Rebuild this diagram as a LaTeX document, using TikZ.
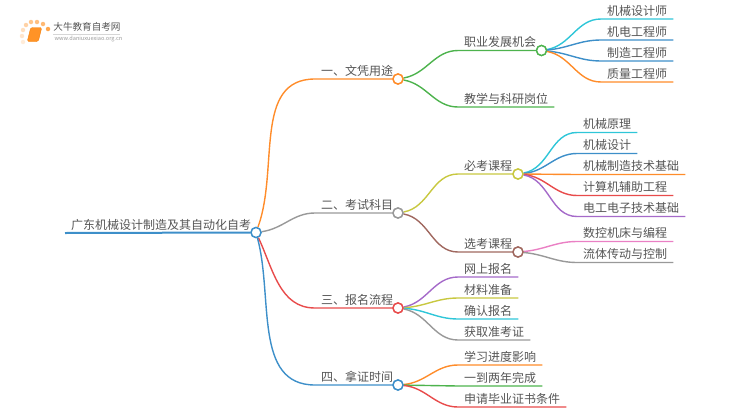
\documentclass[tikz,border=0pt]{standalone}
\usepackage{fontspec}
\setmainfont{Noto Sans CJK SC}
\usepackage{xcolor}
\usetikzlibrary{positioning,shapes.geometric}

\definecolor{lnblue}{HTML}{3D8FC9}
\definecolor{lnorange}{HTML}{FF8C2A}
\definecolor{lngray}{HTML}{999999}
\definecolor{lnred}{HTML}{E84B4B}
\definecolor{lngreen}{HTML}{4DB34D}
\definecolor{lnolive}{HTML}{C8C840}
\definecolor{lnbrown}{HTML}{A0685F}
\definecolor{lncyan}{HTML}{2FC6D8}
\definecolor{lnpurple}{HTML}{A56AC9}
\definecolor{lnpink}{HTML}{EA80C4}
\definecolor{txtgray}{HTML}{555555}

\tikzset{
    topic/.style={anchor=south west, inner xsep=6pt, inner ysep=1.5pt, text height=10.5pt, text depth=2pt,
        text=txtgray, font=\fontsize{12}{14}\selectfont},
    dot/.style={circle, draw=#1, fill=white, line width=1.4pt, minimum size=10pt, inner sep=0pt},
    link/.style={draw=#1, line width=1.4pt},
    spark/.style={circle, fill=#1, inner sep=0pt, minimum size=4.5pt}
}

\begin{document}
\begin{tikzpicture}[x=1pt, y=-1pt]
    \useasboundingbox (0,0) rectangle (750,410);

    % Logo
    \node[spark=orange!70] (s1) at (48,29) {};
    \node[spark=orange!55] (s2) at (43,24) {};
    \node[spark=orange!50] (s3) at (37,22) {};
    \node[spark=orange!45] (s4) at (31,22) {};
    \node[spark=orange!35] (s5) at (26,25) {};
    \node[spark=orange!25] (s6) at (23,30) {};
    \node[spark=orange!20] (s7) at (22,36) {};
    \node[spark=orange!15] (s8) at (23,42) {};
    \node[draw=orange!80!brown, fill=orange!85, rounded corners=1.5pt, minimum width=11pt, minimum height=14pt,
        inner sep=0pt, xslant=0.25] (book) at (34.5,34.5) {};
    \node[text=txtgray, font=\fontsize{9.6}{11}\selectfont, inner sep=0pt] (logotitle) at (87,26.5) {大牛教育自考网};
    \node[text=lngray, font=\fontsize{5.6}{7}\selectfont, inner sep=0pt] (logourl) at (88.5,39) {www.daniuxuexiao.org.cn};
    \draw[lngray!40, line width=0.5pt] (logotitle.south west) ++(0,3) -- ++(67,0);

    % Root
    \node[topic] (root) at (65,233) {广东机械设计制造及其自动化自考};
    \node[dot=lnblue] (rootdot) at (256,232.5) {};

    % First level
    \node[topic] (use) at (315,79) {一、文凭用途};
    \node[dot=lnorange] (usedot) at (398,79) {};
    \node[topic] (exam) at (315,213) {二、考试科目};
    \node[dot=lngray] (examdot) at (398,213) {};
    \node[topic] (apply) at (315,308) {三、报名流程};
    \node[dot=lnred] (applydot) at (398,308) {};
    \node[topic] (time) at (315,385) {四、拿证时间};
    \node[dot=lnblue] (timedot) at (398,385) {};

    % Usage branch
    \node[topic] (career) at (458,50.5) {职业发展机会};
    \node[dot=lngreen] (careerdot) at (541.5,50.5) {};
    \node[topic] (teach) at (458,107) {教学与科研岗位};
    \node[topic] (mech) at (601,19) {机械设计师};
    \node[topic] (elec) at (601,40) {机电工程师};
    \node[topic] (made) at (601,61) {制造工程师};
    \node[topic] (qual) at (601,82) {质量工程师};

    % Exam branch
    \node[topic] (must) at (458,174) {必考课程};
    \node[dot=lnolive] (mustdot) at (518,174) {};
    \node[topic] (opt) at (458,252) {选考课程};
    \node[dot=lnbrown] (optdot) at (518,252) {};
    \node[topic] (prin) at (577,132.5) {机械原理};
    \node[topic] (desi) at (577,153.5) {机械设计};
    \node[topic] (tech) at (577,174.5) {机械制造技术基础};
    \node[topic] (comp) at (577,195.5) {计算机辅助工程};
    \node[topic] (circ) at (577,216.5) {电工电子技术基础};
    \node[topic] (cnc) at (577,241.5) {数控机床与编程};
    \node[topic] (flui) at (577,262.5) {流体传动与控制};

    % Apply branch
    \node[topic] (net) at (458,277) {网上报名};
    \node[topic] (mate) at (458,298) {材料准备};
    \node[topic] (conf) at (458,319) {确认报名};
    \node[topic] (tick) at (458,340) {获取准考证};

    % Time branch
    \node[topic] (prog) at (458,365) {学习进度影响};
    \node[topic] (year) at (458,386) {一到两年完成};
    \node[topic] (cond) at (458,407) {申请毕业证书条件};

    % Connectors
    \draw[link=lnblue, line width=2pt] (root.south west) -- (rootdot);
    \draw[link=lnorange] (rootdot) to[out=70,in=180] (use.south west) -- (usedot);
    \draw[link=lngray] (rootdot) to[out=8,in=180] (exam.south west) -- (examdot);
    \draw[link=lnred] (rootdot) to[out=-65,in=180] (apply.south west) -- (applydot);
    \draw[link=lnblue] (rootdot) to[out=-75,in=180] (time.south west) -- (timedot);

    \draw[link=lngreen] (usedot) to[out=10,in=180] (career.south west) -- (careerdot);
    \draw[link=lngreen] (usedot) to[out=-10,in=180] (teach.south west) -- (teach.south east);
    \draw[link=lncyan] (careerdot) to[out=10,in=180] (mech.south west) -- (mech.south east);
    \draw[link=lnblue] (careerdot) to[out=5,in=180] (elec.south west) -- (elec.south east);
    \draw[link=lnblue] (careerdot) to[out=-5,in=180] (made.south west) -- (made.south east);
    \draw[link=lnorange] (careerdot) to[out=-10,in=180] (qual.south west) -- (qual.south east);

    \draw[link=lnolive] (examdot) to[out=10,in=180] (must.south west) -- (mustdot);
    \draw[link=lnbrown] (examdot) to[out=-10,in=180] (opt.south west) -- (optdot);
    \draw[link=lncyan] (mustdot) to[out=10,in=180] (prin.south west) -- (prin.south east);
    \draw[link=lnblue] (mustdot) to[out=5,in=180] (desi.south west) -- (desi.south east);
    \draw[link=lnorange] (mustdot) -- (tech.south west) -- (tech.south east);
    \draw[link=lnred] (mustdot) to[out=-5,in=180] (comp.south west) -- (comp.south east);
    \draw[link=lnpurple] (mustdot) to[out=-10,in=180] (circ.south west) -- (circ.south east);
    \draw[link=lnpink] (optdot) to[out=5,in=180] (cnc.south west) -- (cnc.south east);
    \draw[link=lngray] (optdot) to[out=-5,in=180] (flui.south west) -- (flui.south east);

    \draw[link=lnpurple] (applydot) to[out=10,in=180] (net.south west) -- (net.south east);
    \draw[link=lnolive] (applydot) to[out=3,in=180] (mate.south west) -- (mate.south east);
    \draw[link=lncyan] (applydot) to[out=-3,in=180] (conf.south west) -- (conf.south east);
    \draw[link=lngray] (applydot) to[out=-10,in=180] (tick.south west) -- (tick.south east);

    \draw[link=lnorange] (timedot) to[out=5,in=180] (prog.south west) -- (prog.south east);
    \draw[link=lngreen] (timedot) -- (year.south west) -- (year.south east);
    \draw[link=lnred] (timedot) to[out=-5,in=180] (cond.south west) -- (cond.south east);

    % Dots again on top of the lines
    \node[dot=lnblue] at (rootdot) {};
    \node[dot=lnorange] at (usedot) {};
    \node[dot=lngray] at (examdot) {};
    \node[dot=lnred] at (applydot) {};
    \node[dot=lnblue] at (timedot) {};
    \node[dot=lngreen] at (careerdot) {};
    \node[dot=lnolive] at (mustdot) {};
    \node[dot=lnbrown] at (optdot) {};
\end{tikzpicture}
\end{document}
